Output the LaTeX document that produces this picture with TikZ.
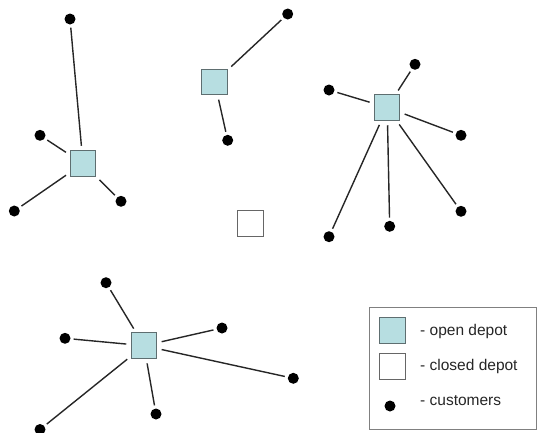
\documentclass[tikz,border=0pt]{standalone}
\usepackage{fontspec}
\setmainfont{Liberation Sans}
\definecolor{depotfill}{HTML}{B7DEE1}
\definecolor{depotline}{HTML}{5E6E70}
\begin{document}
\begin{tikzpicture}[x=1pt,y=-1pt,
  opendepot/.style={draw=depotline,fill=depotfill,line width=1pt,minimum size=25.5pt,inner sep=0pt},
  closeddepot/.style={draw=gray!80!black,fill=white,line width=0.8pt,minimum size=25.5pt,inner sep=0pt},
  cust/.style={circle,fill=black,minimum size=11pt,inner sep=0pt},
  link/.style={draw=black!85,line width=1.4pt,shorten <=4.5pt,shorten >=3pt},
  legtext/.style={anchor=west,inner sep=0pt,font=\fontsize{15.5}{18}\selectfont,text=black!85}]
\useasboundingbox (0,0) rectangle (538,432);
% depots
\node[opendepot] (d1) at (83,163.5) {};
\node[opendepot] (d2) at (214.7,82) {};
\node[opendepot] (d3) at (387.2,107.5) {};
\node[closeddepot] (dc) at (250.2,223.5) {};
\node[opendepot] (d4) at (144,345.7) {};
% customers group 1
\node[cust] (c11) at (70,19) {};
\node[cust] (c12) at (40,135.3) {};
\node[cust] (c13) at (14.3,211) {};
\node[cust] (c14) at (121,201.3) {};
% group 2
\node[cust] (c21) at (287.7,14) {};
\node[cust] (c22) at (227.7,140.3) {};
% group 3
\node[cust] (c31) at (415,64.3) {};
\node[cust] (c32) at (329,90) {};
\node[cust] (c33) at (461,135.3) {};
\node[cust] (c34) at (461,211.3) {};
\node[cust] (c35) at (389.7,226.3) {};
\node[cust] (c36) at (329,236.7) {};
% group 4
\node[cust] (c41) at (106,282.7) {};
\node[cust] (c42) at (65,338.3) {};
\node[cust] (c43) at (222,328) {};
\node[cust] (c44) at (293.3,378.3) {};
\node[cust] (c45) at (156,414) {};
\node[cust] (c46) at (40,429.5) {};
% links
\foreach \d/\c in {d1/c11,d1/c12,d1/c13,d1/c14,d2/c21,d2/c22,
  d3/c31,d3/c32,d3/c33,d3/c34,d3/c35,d3/c36,
  d4/c41,d4/c42,d4/c43,d4/c44,d4/c45,d4/c46}
  \draw[link] (\d) -- (\c);
% legend
\node[draw=gray,line width=0.7pt,minimum width=167pt,minimum height=122pt,inner sep=0pt] (leg) at (453,368.3) {};
\node[opendepot] (lo) at (392.3,330.3) {};
\node[closeddepot] (lc) at (392.3,366.2) {};
\node[cust] (lu) at (390,406) {};
\node[legtext] (to) at (420,331) {- open depot};
\node[legtext] (tc) at (420,366.5) {- closed depot};
\node[legtext] (tu) at (420,401) {- customers};
\end{tikzpicture}
\end{document}
